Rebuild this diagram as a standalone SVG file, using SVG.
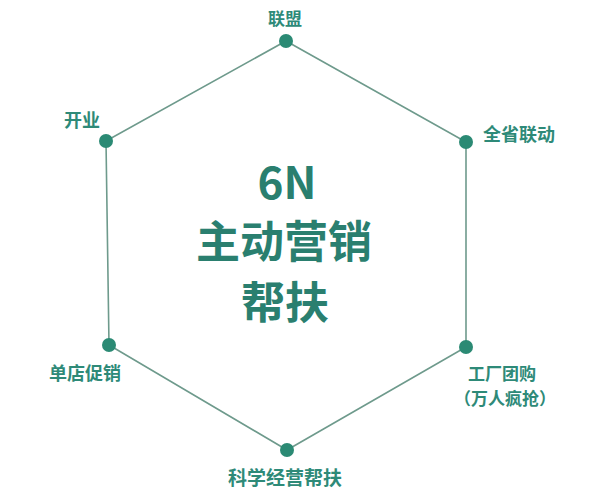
<svg xmlns="http://www.w3.org/2000/svg" width="600" height="500" viewBox="0 0 600 500">
<style>
.lbl{font-family:"Noto Sans CJK SC","Noto Sans",sans-serif;font-weight:bold;fill:#2e8a78;text-anchor:middle;dominant-baseline:central}
.big{font-family:"Noto Sans CJK SC","Noto Sans",sans-serif;font-weight:bold;fill:#2a7f6f;text-anchor:middle;dominant-baseline:central;font-size:44px}
.dot{fill:#2b8a74}
.edge{stroke:#6e9a8c;stroke-width:1.6;fill:none}
</style>
<rect width="600" height="500" fill="#ffffff"/>
<g id="connectors">
<polygon class="edge" points="286,41 466,142 466,347 287,450 109,345 106,141"/>
</g>
<g id="center">
<text class="big" x="287" y="180">6N</text>
<text class="big" x="284" y="239">主动营销</text>
<text class="big" x="285" y="300">帮扶</text>
</g>
<g id="n1"><circle class="dot" cx="286" cy="41" r="7"/><text class="lbl" x="285" y="17" font-size="17">联盟</text></g>
<g id="n2"><circle class="dot" cx="466" cy="142" r="7"/><text class="lbl" x="519" y="133" font-size="18">全省联动</text></g>
<g id="n3"><circle class="dot" cx="466" cy="347" r="7"/><text class="lbl" x="502" y="372" font-size="17">工厂团购</text><text class="lbl" x="505" y="397" font-size="17">（万人疯抢）</text></g>
<g id="n4"><circle class="dot" cx="287" cy="450" r="7"/><text class="lbl" x="285" y="476" font-size="19">科学经营帮扶</text></g>
<g id="n5"><circle class="dot" cx="109" cy="345" r="7"/><text class="lbl" x="85" y="372" font-size="18">单店促销</text></g>
<g id="n6"><circle class="dot" cx="106" cy="141" r="7"/><text class="lbl" x="82" y="119" font-size="18">开业</text></g>
</svg>
